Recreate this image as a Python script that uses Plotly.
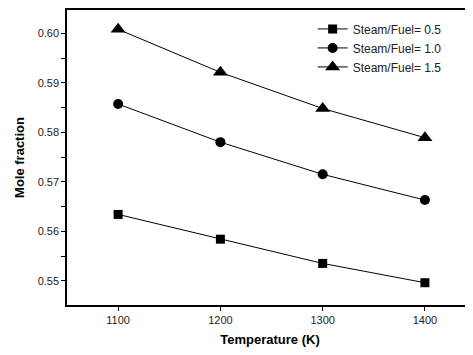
import plotly.graph_objects as go

temperature = [1100, 1200, 1300, 1400]
sf_05 = [0.5634, 0.5584, 0.5535, 0.5496]
sf_10 = [0.5857, 0.5780, 0.5715, 0.5663]
sf_15 = [0.6008, 0.5921, 0.5848, 0.5789]
series_names = ["Steam/Fuel= 0.5", "Steam/Fuel= 1.0", "Steam/Fuel= 1.5"]
y_ticks = [0.55, 0.56, 0.57, 0.58, 0.59, 0.60]
x_ticks = [1100, 1200, 1300, 1400]

fig = go.Figure()
for vals, name, sym, size in [
    (sf_05, series_names[0], "square", 9),
    (sf_10, series_names[1], "circle", 10),
    (sf_15, series_names[2], "triangle-up", 13),
]:
    fig.add_trace(go.Scatter(
        x=temperature, y=vals, name=name, mode="lines+markers",
        line=dict(color="black", width=1),
        marker=dict(symbol=sym, size=size, color="black"),
    ))

fig.update_layout(
    width=465, height=339,
    margin=dict(l=59, r=0, t=2, b=42, autoexpand=False),
    paper_bgcolor="white", plot_bgcolor="white",
    font=dict(family="Liberation Sans, Arial, sans-serif", size=11, color="#222"),
    showlegend=True,
    legend=dict(x=0.605, y=0.985, xanchor="left", yanchor="top",
                bgcolor="rgba(0,0,0,0)", font=dict(size=12, color="#222"),
                itemwidth=30, tracegroupgap=0),
    xaxis=dict(
        range=[1050, 1447], tickvals=x_ticks, showgrid=False, zeroline=False,
        showline=True, linecolor="black", linewidth=1.5, mirror=True,
        ticks="outside", ticklen=4, tickcolor="black", automargin=False,
        title=dict(text="<b>Temperature (K)</b>", font=dict(size=13, color="black"), standoff=14),
    ),
    yaxis=dict(
        range=[0.5451, 0.6047], tickvals=y_ticks, ticktext=[f"{v:.2f}" for v in y_ticks],
        showgrid=False, zeroline=False,
        showline=True, linecolor="black", linewidth=1.5, mirror=False,
        ticks="outside", ticklen=4, tickcolor="black", automargin=False,
        minor=dict(dtick=0.005, tick0=0.545, ticks="outside", ticklen=4, tickcolor="black"),
        title=dict(text="<b>Mole fraction</b>", font=dict(size=13, color="black"), standoff=10),
    ),
)

fig.write_html("out.html")
